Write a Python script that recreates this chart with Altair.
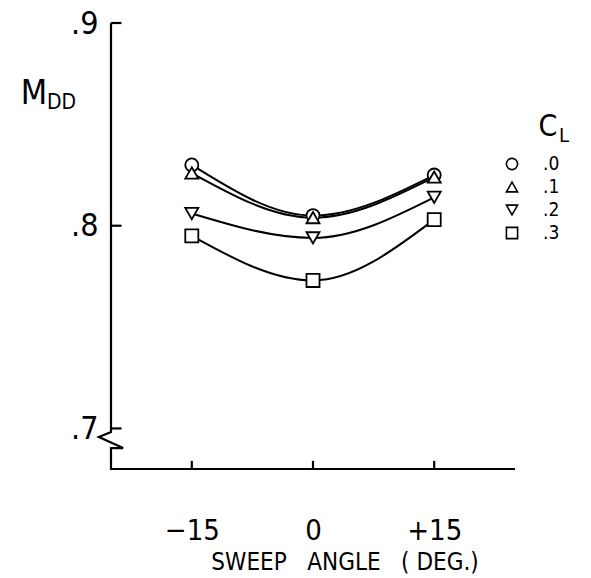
import altair as alt
import pandas as pd

# ---- data ----
angles = [-15, 0, 15]
cl_labels = [".0", ".1", ".2", ".3"]
mdd_cl0 = [0.830, 0.805, 0.825]
mdd_cl1 = [0.826, 0.804, 0.824]
mdd_cl2 = [0.806, 0.794, 0.814]
mdd_cl3 = [0.795, 0.773, 0.803]
shapes = ["circle", "triangle-up", "triangle-down", "square"]

x_ticks = [-15, 0, 15]
x_tick_labels = ["\u221215", "0", "+15"]
y_ticks = [0.7, 0.8, 0.9]
y_tick_labels = [".7", ".8", ".9"]

x_domain = [-25, 25]
y_domain = [0.68, 0.9]

# axis frame with the broken-axis zigzag
frame_x = [-25, -25, -26.5, -23.5, -25, -25, 25]
frame_y = [0.9, 0.6982, 0.6958, 0.6903, 0.6903, 0.68, 0.68]

FONT = "Liberation Sans Narrow, DejaVu Sans Condensed, Liberation Sans, Arial"

series = [mdd_cl0, mdd_cl1, mdd_cl2, mdd_cl3]
rows = []
for lab, vals in zip(cl_labels, series):
    for a, v in zip(angles, vals):
        rows.append({"angle": a, "mdd": v, "cl": lab})
df = pd.DataFrame(rows)

frame_df = pd.DataFrame({"x": frame_x, "y": frame_y, "i": list(range(len(frame_x)))})
xt_df = pd.DataFrame({"x": x_ticks})
yt_df = pd.DataFrame({"y": y_ticks})


def expr_map(vals, labels):
    e = "''"
    for v, l in reversed(list(zip(vals, labels))):
        e = f"abs(datum.value - ({v})) < 1e-6 ? '{l}' : ({e})"
    return e


xscale = alt.Scale(domain=x_domain, nice=False, zero=False)
yscale = alt.Scale(domain=y_domain, nice=False, zero=False)

xenc = alt.X(
    "angle:Q",
    scale=xscale,
    axis=alt.Axis(
        values=x_ticks,
        labelExpr=expr_map(x_ticks, x_tick_labels),
        domain=False,
        ticks=False,
        tickSize=0,
        grid=False,
        title=None,
        labelFont=FONT,
        labelFontSize=29,
        labelColor="black",
        labelPadding=47,
        labelBaseline="top",
    ),
)
yenc = alt.Y(
    "mdd:Q",
    scale=yscale,
    axis=alt.Axis(
        values=y_ticks,
        labelExpr=expr_map(y_ticks, y_tick_labels),
        domain=False,
        ticks=False,
        tickSize=0,
        grid=False,
        title=None,
        labelFont=FONT,
        labelFontSize=32,
        labelColor="black",
        labelPadding=13,
    ),
)

lines = alt.Chart(df).mark_line(
    color="black", strokeWidth=2, interpolate="monotone"
).encode(x=xenc, y=yenc, detail="cl:N")

points = alt.Chart(df).mark_point(
    filled=True, fill="white", stroke="black", strokeWidth=1.8, size=170, opacity=1
).encode(
    x=alt.X("angle:Q", scale=xscale),
    y=alt.Y("mdd:Q", scale=yscale),
    shape=alt.Shape("cl:N", scale=alt.Scale(domain=cl_labels, range=shapes), legend=None),
)

frame = alt.Chart(frame_df).mark_line(color="black", strokeWidth=2.2).encode(
    x=alt.X("x:Q", scale=xscale),
    y=alt.Y("y:Q", scale=yscale),
    order="i:Q",
)

xticks = alt.Chart(xt_df).mark_rule(color="black", strokeWidth=2.2).encode(
    x=alt.X("x:Q", scale=xscale),
    y=alt.datum(0.68),
    y2=alt.datum(0.684),
)
yticks = alt.Chart(yt_df).mark_rule(color="black", strokeWidth=2.2).encode(
    y=alt.Y("y:Q", scale=yscale),
    x=alt.datum(-25),
    x2=alt.datum(-23.7),
)


def label(text, x, y, size, align="center"):
    return alt.Chart(pd.DataFrame({"t": [text]})).mark_text(
        font=FONT, fontSize=size, color="black", align=align, baseline="middle"
    ).encode(text="t:N", x=alt.value(x), y=alt.value(y))


# C_L key, laid out by hand in the pixel space of the plot area
LEG_SYM_X = 401
LEG_LAB_X = 432
LEG_Y0 = 141
LEG_DY = 23
legend_layers = []
for k, (lab, shp) in enumerate(zip(cl_labels, shapes)):
    yy = LEG_Y0 + k * LEG_DY
    legend_layers.append(
        alt.Chart(pd.DataFrame({"t": [lab]})).mark_point(
            shape=shp, filled=True, fill="white", stroke="black",
            strokeWidth=1.6, size=125, opacity=1
        ).encode(x=alt.value(LEG_SYM_X), y=alt.value(yy))
    )
    legend_layers.append(label(lab, LEG_LAB_X, yy, 19, align="left"))

m_t = label("M", -77, 71, 34)
dd_t = label("DD", -64, 80, 21, align="left")
c_t = label("C", 437, 104, 30)
l_t = label("L", 448, 113, 20, align="left")
x_title = label("SWEEP\u00a0\u00a0\u00a0ANGLE\u00a0\u00a0\u00a0(\u00a0DEG.)", 234, 540, 24)

chart = alt.layer(
    frame, xticks, yticks, lines, points, *legend_layers, m_t, dd_t, c_t, l_t, x_title
).properties(
    width=404,
    height=446,
    autosize=alt.AutoSizeParams(type="none"),
    padding={"left": 111, "top": 23, "right": 76, "bottom": 109},
).configure_view(strokeWidth=0)

chart.save("out.html", embed_options={"renderer": "svg", "actions": False})
